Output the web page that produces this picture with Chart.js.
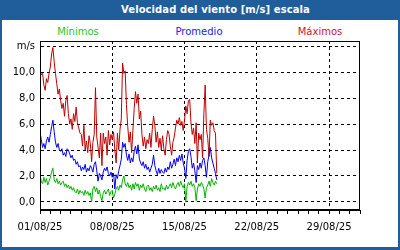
<!DOCTYPE html>
<html>
<head>
<meta charset="utf-8">
<script src="https://cdn.jsdelivr.net/npm/chart.js@4/dist/chart.umd.min.js"></script>
<style>
  html, body { margin: 0; padding: 0; background: #fff; }
  #frame { position: absolute; left: 0; top: 0; width: 400px; height: 250px; background: #1f5d9b; overflow: hidden; }
  #title { position: absolute; left: 0; top: 0; width: 400px; height: 20px; color: #fff;
           font: bold 10px "DejaVu Sans", sans-serif; line-height: 20px; letter-spacing: 0.08px; text-align: left; padding-left: 121px; box-sizing: border-box; white-space: nowrap; }
  #inner { position: absolute; left: 2px; top: 20px; width: 396px; height: 227px; background: #fff; }
  .leg { position: absolute; top: 6px; font: 10px "DejaVu Sans", sans-serif; white-space: nowrap; transform: translateX(-50%); }
  canvas { position: absolute; left: 0; top: 0; }
</style>
</head>
<body>
<div id="frame">
  <div id="title">Velocidad del viento [m/s] escala</div>
  <div id="inner">
    <div class="leg" id="leg0" style="left:76px"></div>
    <div class="leg" id="leg1" style="left:197px"></div>
    <div class="leg" id="leg2" style="left:318px"></div>
    <canvas id="c" width="396" height="227"></canvas>
  </div>
</div>
<script>
// Series names and colours
const seriesNames = ['Mínimos', 'Promedio', 'Máximos'];
const seriesColors = ['#00b400', '#0000f0', '#c00000'];
const legendColors = ['#22c822', '#2323e8', '#c8143c'];

// Weekly x tick labels (days since 01/08/25)
const tickDays = [0, 7, 14, 21, 28];
const tickLabels = ['01/08/25', '08/08/25', '15/08/25', '22/08/25', '29/08/25'];

// Sampling: every 3 hours from 01/08/25 00:00 (8 samples per day)
const samplesPerDay = 8;

// Máximos (m/s)
const maxValues = [
  10.3, 9.8, 9.9, 9.0, 8.6, 9.5, 9.2, 9.9,
  10.4, 11.4, 11.9, 10.8, 9.9, 9.1, 8.3, 8.7,
  7.8, 7.2, 7.6, 6.6, 7.8, 8.2, 6.8, 6.0,
  6.4, 5.6, 6.8, 6.2, 7.3, 6.1, 5.7, 5.3,
  5.2, 4.3, 5.9, 4.0, 4.7, 3.8, 5.1, 4.5,
  3.1, 4.6, 5.2, 8.8, 5.0, 4.2, 3.4, 5.3,
  2.8, 5.3, 4.5, 5.0, 3.6, 5.5, 4.4, 5.2,
  4.8, 5.4, 4.0, 3.0, 5.3, 4.0, 5.6, 6.4,
  10.7, 9.9, 10.1, 7.5, 5.8, 4.6, 5.4, 3.8,
  5.5, 7.2, 8.5, 7.6, 8.3, 6.4, 7.0, 5.2,
  4.3, 5.0, 4.1, 4.8, 4.5, 5.3, 4.2, 5.6,
  6.6, 5.9, 4.6, 5.4, 4.2, 4.9, 4.0, 5.1,
  4.1, 3.6, 4.8, 5.5, 5.2, 4.3, 3.6, 4.6,
  5.0, 5.7, 6.3, 6.0, 6.5, 5.9, 6.2, 5.5,
  6.3, 7.4, 6.8, 7.8, 7.9, 6.1, 5.2, 5.7,
  4.5, 6.1, 3.0, 5.3, 4.8, 5.2, 3.4, 6.8,
  9.0, 5.6, 4.9, 3.5, 6.3, 5.9, 6.1, 5.5,
  5.3, 2.2
];

// Promedio (m/s)
const avgValues = [
  5.4, 4.8, 4.2, 4.5, 4.1, 4.7, 5.0, 4.6,
  5.2, 5.8, 6.3, 5.4, 4.6, 4.2, 4.5, 4.0,
  3.9, 4.1, 3.6, 3.8, 3.5, 4.1, 4.0, 3.7,
  3.4, 3.6, 3.2, 3.3, 2.9, 3.1, 2.7, 2.8,
  2.4, 2.7, 2.5, 2.9, 2.3, 2.6, 2.4, 2.8,
  2.6, 2.3, 2.9, 3.1, 2.4, 1.6, 2.2, 2.0,
  1.7, 2.3, 2.6, 2.4, 2.7, 2.2, 2.0, 2.3,
  1.9, 2.2, 1.0, 2.1, 1.8, 2.4, 2.8, 3.3,
  4.6, 4.2, 4.5, 3.6, 3.2, 3.7, 3.0, 3.4,
  3.1, 3.9, 4.3, 3.7, 4.4, 3.3, 3.0, 2.8,
  3.1, 2.6, 2.9, 2.5, 2.7, 2.3, 2.6, 2.9,
  3.6, 2.8, 2.4, 2.1, 2.6, 2.2, 2.5, 2.3,
  2.2, 2.6, 2.3, 2.7, 2.5, 3.1, 2.6, 2.9,
  3.3, 2.8, 3.4, 3.1, 3.6, 3.2, 3.7, 3.0,
  2.6, 1.8, 3.2, 3.9, 4.1, 3.5, 2.6, 3.0,
  2.4, 1.5, 2.8, 2.5, 3.0, 2.6, 3.2, 3.4,
  2.8, 1.9, 3.1, 3.6, 4.2, 3.4, 3.0, 2.6,
  2.2, 1.7
];

// Mínimos (m/s)
const minValues = [
  2.1, 1.6, 1.4, 1.9, 1.5, 1.8, 1.3, 1.6,
  1.9, 2.3, 2.6, 1.7, 1.5, 1.8, 1.4, 1.6,
  1.3, 1.5, 1.6, 1.2, 1.4, 1.1, 1.3, 1.0,
  1.2, 0.9, 1.1, 0.8, 0.7, 1.0, 0.6, 0.9,
  0.7, 0.8, 0.5, 0.9, 0.6, 0.8, 0.5, 0.7,
  0.0, 1.0, 1.2, 0.8, 1.1, 0.6, 0.9, 0.4,
  0.1, 0.7, 0.9, 0.6, 0.8, 1.0, 0.5, 0.8,
  0.9, 0.3, 0.6, 1.0, 1.2, 0.9, 1.3, 1.1,
  1.7, 2.0, 1.4, 1.2, 1.5, 1.1, 1.3, 0.9,
  1.4, 1.0, 1.5, 1.2, 1.4, 0.9, 1.3, 1.1,
  1.4, 1.0, 0.8, 1.2, 1.3, 0.9, 1.1, 0.8,
  1.2, 1.0, 1.3, 0.9, 1.1, 0.8, 1.4, 1.0,
  1.1, 0.9, 1.3, 1.0, 1.2, 1.4, 1.1, 1.5,
  1.2, 1.0, 1.3, 1.5, 1.2, 1.6, 1.3, 1.1,
  1.4, 0.0, 1.2, 1.5, 1.3, 1.6, 1.2, 1.4,
  1.1, 0.1, 1.0, 1.4, 1.2, 1.5, 1.3, 1.0,
  0.3, 1.1, 1.3, 1.6, 1.2, 1.8, 1.5, 1.3,
  1.6, 1.4
];

const yTickValues = [0, 2, 4, 6, 8, 10, 12];
const yUnitLabel = 'm/s';

function toPoints(arr) {
  return arr.map((v, i) => ({ x: i / samplesPerDay, y: v }));
}

// HTML legend
seriesNames.forEach((n, i) => {
  const el = document.getElementById('leg' + i);
  el.textContent = n;
  el.style.color = legendColors[i];
});

const framePlugin = {
  id: 'frame',
  afterDraw(chart) {
    const a = chart.chartArea, ctx = chart.ctx;
    ctx.save();
    ctx.strokeStyle = '#000';
    ctx.lineWidth = 1;
    ctx.strokeRect(Math.round(a.left) + 0.5, Math.round(a.top) + 0.5,
                   Math.round(a.right - a.left) - 1, Math.round(a.bottom - a.top) - 1);
    ctx.restore();
  }
};

const font = { family: '"DejaVu Sans", sans-serif', size: 10 };

new Chart(document.getElementById('c'), {
  type: 'line',
  data: {
    datasets: [
      { label: seriesNames[2], data: toPoints(maxValues), borderColor: seriesColors[2], order: 3 },
      { label: seriesNames[1], data: toPoints(avgValues), borderColor: seriesColors[1], order: 2 },
      { label: seriesNames[0], data: toPoints(minValues), borderColor: seriesColors[0], order: 1 }
    ].map(d => Object.assign(d, { borderWidth: 1, pointRadius: 0, tension: 0, fill: false }))
  },
  options: {
    responsive: false,
    animation: false,
    devicePixelRatio: 1,
    layout: { padding: { top: 21, right: 38, left: 0, bottom: 0 } },
    plugins: { legend: { display: false }, tooltip: { enabled: false }, title: { display: false } },
    scales: {
      x: {
        type: 'linear',
        min: 0, max: 31,
        afterBuildTicks(scale) {
          const t = [];
          for (let d = 0; d <= 31; d++) t.push({ value: d });
          scale.ticks = t;
        },
        afterFit(scale) { scale.height = 37; },
        ticks: {
          autoSkip: false, maxRotation: 0, minRotation: 0, padding: 7,
          color: '#000', font: font,
          callback(v) { const k = tickDays.indexOf(v); return k >= 0 ? tickLabels[k] : ''; }
        },
        grid: {
          color(ctx) { const v = ctx.tick && ctx.tick.value; return (v % 7 === 0 && v > 0 && v < 31) ? '#000' : 'rgba(0,0,0,0)'; },
          tickColor: '#000', tickLength: 4, lineWidth: 1, drawTicks: true
        },
        border: { display: true, color: '#000', width: 1, dash: [3, 3] }
      },
      y: {
        type: 'linear',
        min: -0.62, max: 12.4,
        afterBuildTicks(scale) { scale.ticks = yTickValues.map(v => ({ value: v })); },
        afterFit(scale) { scale.width = 38; },
        ticks: {
          padding: 5, color: '#000', font: font,
          callback(v) { return v === 12 ? yUnitLabel : v.toFixed(1).replace('.', ','); }
        },
        grid: { color: '#000', drawTicks: false, lineWidth: 1 },
        border: { display: true, color: '#000', width: 1, dash: [3, 3] }
      }
    }
  },
  plugins: [framePlugin]
});
</script>
</body>
</html>
